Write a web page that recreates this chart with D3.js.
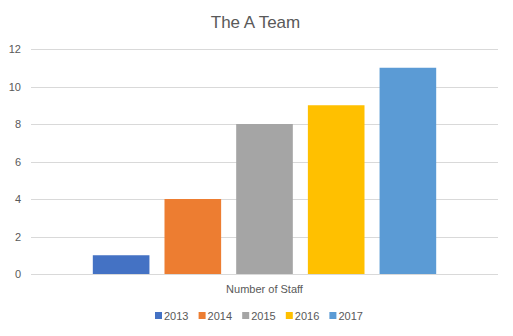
<!DOCTYPE html>
<html>
<head>
<meta charset="utf-8">
<script src="https://cdn.jsdelivr.net/npm/d3@7"></script>
<style>
  body { margin: 0; background: #fff; }
  text { font-family: "Liberation Sans", "DejaVu Sans", sans-serif; fill: #595959; }
</style>
</head>
<body>
<script>
var categories = ["Number of Staff"];
var years = ["2013", "2014", "2015", "2016", "2017"];
var staff = [1, 4, 8, 9, 11];
var yTicks = [0, 2, 4, 6, 8, 10, 12];
var colors = ["#4472C4", "#ED7D31", "#A5A5A5", "#FFC000", "#5B9BD5"];

var width = 513, height = 336,
    margin = {top: 49, right: 15, bottom: 62, left: 31};

var svg = d3.select("body").append("svg")
    .attr("width", width)
    .attr("height", height);

var y = d3.scaleLinear().domain([0, 12]).range([height - margin.bottom, margin.top]);

var x0 = d3.scaleBand().domain(categories)
    .range([margin.left, width - margin.right])
    .paddingInner(0).paddingOuter(0.18);

var x1 = d3.scaleBand().domain(years)
    .range([0, x0.bandwidth()])
    .paddingInner(0.21).paddingOuter(0);

// gridlines
svg.append("g").selectAll("line")
    .data(yTicks)
  .enter().append("line")
    .attr("x1", margin.left).attr("x2", width - margin.right)
    .attr("y1", d => Math.round(y(d)) + 0.5).attr("y2", d => Math.round(y(d)) + 0.5)
    .attr("stroke", "#D9D9D9").attr("stroke-width", 1);

// y labels
svg.append("g").selectAll("text")
    .data(yTicks)
  .enter().append("text")
    .attr("x", 21).attr("y", d => y(d) + 4)
    .attr("text-anchor", "end")
    .style("font-size", "11px")
    .text(d => d);

// bars
svg.append("g").selectAll("g")
    .data(categories)
  .enter().append("g")
    .attr("transform", d => "translate(" + x0(d) + ",0)")
    .selectAll("rect")
    .data(years.map((yr, i) => ({year: yr, value: staff[i], color: colors[i]})))
  .enter().append("rect")
    .attr("x", d => x1(d.year))
    .attr("width", x1.bandwidth())
    .attr("y", d => y(d.value))
    .attr("height", d => y(0) - y(d.value))
    .attr("fill", d => d.color);

// category label
svg.append("g").selectAll("text")
    .data(categories)
  .enter().append("text")
    .attr("x", d => x0(d) + x0.bandwidth() / 2)
    .attr("y", 293)
    .attr("text-anchor", "middle")
    .style("font-size", "11px")
    .text(d => d);

// title
svg.append("text")
    .attr("x", width / 2 - 1).attr("y", 28)
    .attr("text-anchor", "middle")
    .style("font-size", "17px")
    .text("The A Team");

// legend
var legend = svg.append("g").selectAll("g")
    .data(years)
  .enter().append("g")
    .attr("transform", (d, i) => "translate(" + (155 + i * 43.6) + ",312)");

legend.append("rect")
    .attr("width", 7).attr("height", 7)
    .attr("fill", (d, i) => colors[i]);

legend.append("text")
    .attr("x", 9).attr("y", 7.5)
    .style("font-size", "11px")
    .text(d => d);
</script>
</body>
</html>
